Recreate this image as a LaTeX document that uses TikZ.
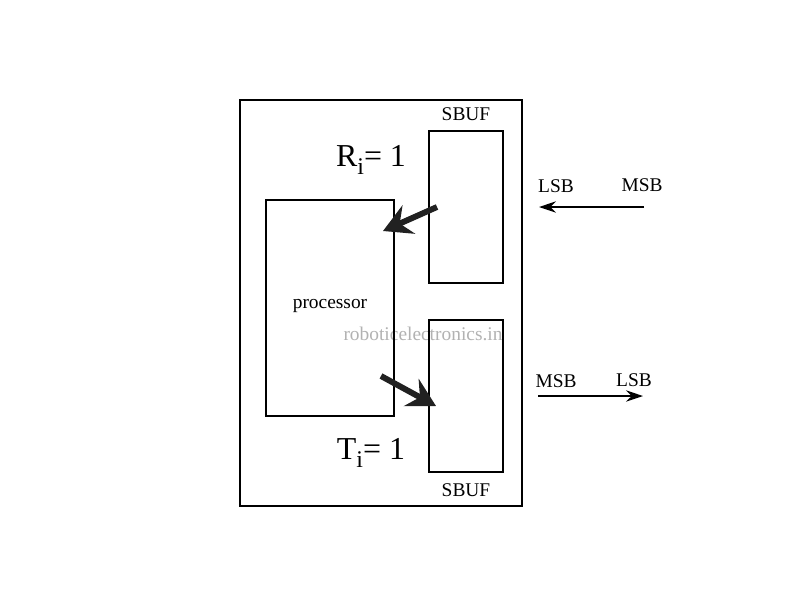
\documentclass[tikz,border=0pt]{standalone}
\usepackage{fontspec}
\setmainfont{Liberation Serif}
\usetikzlibrary{shapes,arrows.meta,positioning,calc}

\tikzset{
  blk/.style={draw, line width=1.4pt, inner sep=0pt},
  lbl/.style={font=\fontsize{13.8}{16}\selectfont, inner sep=0pt},
  big/.style={font=\fontsize{22.7}{26}\selectfont, inner sep=0pt},
  flow/.style={line width=4.2pt, draw=black!87, -{Stealth[length=20pt,width=22pt,inset=7pt]}},
  bit/.style={line width=1.4pt, -{Stealth[length=12pt,width=8pt,inset=4pt]}}
}
\newcommand{\sbi}{\raisebox{-0.5ex}{\fontsize{17}{20}\selectfont i}}

\begin{document}
\begin{tikzpicture}[x=0.025cm,y=-0.025cm]
\useasboundingbox (0,0) rectangle (800,600);
\node[lbl, text=black!30] (wm) at (423,334) {roboticelectronics.in};
\node[blk, minimum width=282*0.025cm, minimum height=406*0.025cm] (chip) at (381,303) {};
\node[blk, minimum width=74*0.025cm, minimum height=152*0.025cm] (rbuf) at (466,207) {};
\node[blk, minimum width=74*0.025cm, minimum height=152*0.025cm] (tbuf) at (466,396) {};
\node[blk, minimum width=128*0.025cm, minimum height=216*0.025cm] (proc) at (330,308) {};
\node[lbl] (ptxt) at (330,306) {processor};
\node[lbl, above=9*0.025cm of rbuf] (rname) {SBUF};
\node[lbl, below=10*0.025cm of tbuf] (tname) {SBUF};
\node[big] (ri) at (371,160) {R\sbi= 1};
\node[big] (ti) at (371,453) {T\sbi= 1};
% receive / transmit paths
\coordinate (rx) at (437,207);
\coordinate (rp) at (383,231);
\coordinate (tp) at (381,376);
\coordinate (tx) at (436,406);
\draw[flow] (rx) -- (rp);
\draw[flow] (tp) -- (tx);
% bit order
\node[lbl] (rlsb) at (556,186) {LSB};
\node[lbl] (rmsb) at (642,185) {MSB};
\node[lbl] (tmsb) at (556,381) {MSB};
\node[lbl] (tlsb) at (634,380) {LSB};
\coordinate (ra) at (644,207);
\coordinate (rb) at (539,207);
\coordinate (ta) at (538,396);
\coordinate (tb) at (643,396);
\draw[bit] (ra) -- (rb);
\draw[bit] (ta) -- (tb);
\end{tikzpicture}
\end{document}
